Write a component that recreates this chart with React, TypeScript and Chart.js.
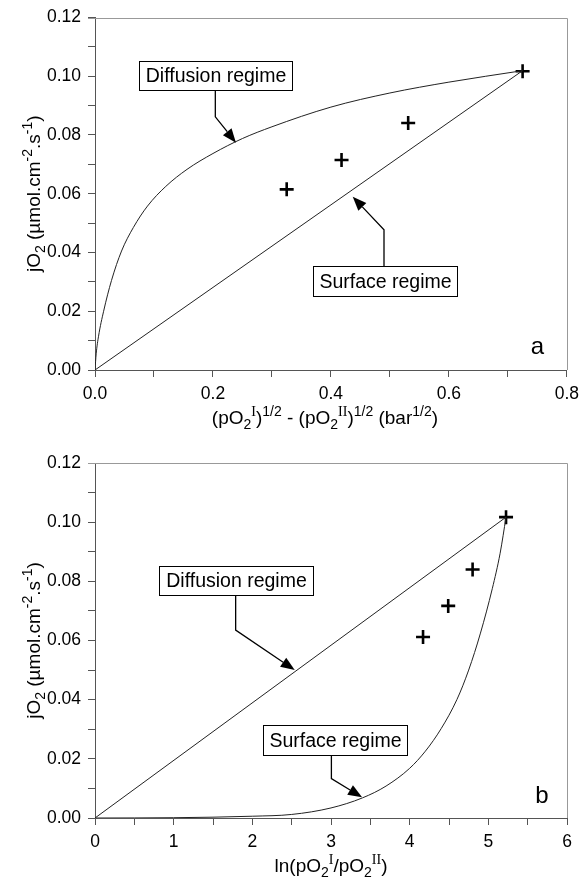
import React, { useEffect, useRef } from 'react';
import { Chart, registerables } from 'chart.js';
Chart.register(...registerables);

// ---------- Panel a : jO2 vs (pO2^I)^1/2 - (pO2^II)^1/2 ----------
const aDiffusionX = [0, 0.002, 0.006, 0.0146, 0.028, 0.045, 0.065, 0.089, 0.12, 0.156, 0.2, 0.25, 0.3, 0.4, 0.5, 0.6, 0.725];
const aDiffusionY = [0, 0.0055, 0.0115, 0.020, 0.0305, 0.0405, 0.0485, 0.0558, 0.0625, 0.0683, 0.0737, 0.0788, 0.0828, 0.0895, 0.0943, 0.0980, 0.1019];
const aSurfaceX = [0, 0.725];
const aSurfaceY = [0, 0.1019];
const aMeasuredX = [0.325, 0.418, 0.531, 0.725];
const aMeasuredY = [0.0615, 0.0715, 0.0841, 0.1017];
const aXTickLabels = ['0.0', '0.2', '0.4', '0.6', '0.8'];

// ---------- Panel b : jO2 vs ln(pO2^I / pO2^II) ----------
const bDiffusionX = [0, 5.225];
const bDiffusionY = [0, 0.1017];
const bSurfaceX = [0, 1.0, 2.0, 2.5, 3.0, 3.4, 3.7, 4.0, 4.2, 4.4, 4.6, 4.75, 4.9, 5.05, 5.15, 5.225];
const bSurfaceY = [0, 0.0001, 0.0006, 0.0012, 0.0034, 0.0068, 0.0108, 0.0168, 0.0226, 0.0302, 0.040, 0.050, 0.0625, 0.0775, 0.0895, 0.1017];
const bMeasuredX = [4.17, 4.49, 4.80, 5.225];
const bMeasuredY = [0.0612, 0.0717, 0.0840, 0.1017];
const bXTickLabels = ['0', '1', '2', '3', '4', '5', '6'];

const yTickLabels = ['0.00', '0.02', '0.04', '0.06', '0.08', '0.10', '0.12'];

const SANS = '"Liberation Sans", Arial, Helvetica, sans-serif';
const SERIF = '"Liberation Serif", "Times New Roman", serif';

type Seg = { t: string; k?: 'sub' | 'sup'; serif?: boolean };

const yTitle: Seg[] = [
  { t: 'jO' }, { t: '2', k: 'sub' }, { t: ' (\u00b5mol.cm' }, { t: '-2', k: 'sup' }, { t: '.s' }, { t: '-1', k: 'sup' }, { t: ')' },
];
const aXTitle: Seg[] = [
  { t: '(pO' }, { t: '2', k: 'sub' }, { t: 'I', k: 'sup', serif: true }, { t: ')' }, { t: '1/2', k: 'sup' },
  { t: ' - (pO' }, { t: '2', k: 'sub' }, { t: 'II', k: 'sup', serif: true }, { t: ')' }, { t: '1/2', k: 'sup' },
  { t: ' (bar' }, { t: '1/2', k: 'sup' }, { t: ')' },
];
const bXTitle: Seg[] = [
  { t: 'ln(pO' }, { t: '2', k: 'sub' }, { t: 'I', k: 'sup', serif: true }, { t: '/pO' }, { t: '2', k: 'sub' }, { t: 'II', k: 'sup', serif: true }, { t: ')' },
];

const pts = (xs: number[], ys: number[]) => xs.map((x, i) => ({ x, y: ys[i] }));

function drawRich(ctx: CanvasRenderingContext2D, segs: Seg[], x: number, y: number, size: number, rotate: boolean) {
  const small = Math.round(size * 0.72);
  const font = (s: number, serif?: boolean) => `${s}px ${serif ? SERIF : SANS}`;
  let w = 0;
  const parts = segs.map((s) => {
    const sz = s.k ? small : size;
    ctx.font = font(sz, s.serif);
    const mw = ctx.measureText(s.t).width;
    w += mw;
    return { ...s, sz, mw };
  });
  ctx.save();
  ctx.translate(x, y);
  if (rotate) ctx.rotate(-Math.PI / 2);
  ctx.textAlign = 'left';
  ctx.textBaseline = 'alphabetic';
  ctx.fillStyle = '#000';
  let cx = -w / 2;
  for (const p of parts) {
    ctx.font = font(p.sz, p.serif);
    const dy = p.k === 'sub' ? size * 0.28 : p.k === 'sup' ? -size * 0.42 : 0;
    ctx.fillText(p.t, cx, dy);
    cx += p.mw;
  }
  ctx.restore();
}

type Box = { x0: number; x1: number; y0: number; y1: number; text: string };
type Arrow = { pts: [number, number][] };
type PanelCfg = {
  xMax: number; xStep: number; xLabels: string[];
  top: number; xScaleH: number;
  diffX: number[]; diffY: number[]; surfX: number[]; surfY: number[]; measX: number[]; measY: number[];
  curvedIsDiff: boolean;
  boxes: Box[]; arrows: Arrow[];
  letter: { x: number; y: number; t: string };
  xTitle: Seg[]; xTitleDx: number;
};

function makeAnnot(cfg: PanelCfg) {
  return {
    id: 'annot',
    beforeDatasetsDraw(chart: any) {
      const { ctx, chartArea: a } = chart;
      ctx.save();
      ctx.strokeStyle = '#999';
      ctx.lineWidth = 1;
      ctx.beginPath();
      ctx.moveTo(a.left - 7, Math.round(a.top) + 0.5);
      ctx.lineTo(Math.round(a.right) + 0.5, Math.round(a.top) + 0.5);
      ctx.lineTo(Math.round(a.right) + 0.5, a.bottom);
      ctx.stroke();
      ctx.restore();
    },
    afterDatasetsDraw(chart: any) {
      const { ctx, chartArea: a } = chart;
      const xs = chart.scales.x, ys = chart.scales.y;
      const px = (v: number) => xs.getPixelForValue(v);
      const py = (v: number) => ys.getPixelForValue(v);
      ctx.save();
      for (const ar of cfg.arrows) {
        const p = ar.pts.map(([x, y]) => [px(x), py(y)]);
        const n = p.length;
        const [tx, ty] = p[n - 1];
        const [sx, sy] = p[n - 2];
        const ang = Math.atan2(ty - sy, tx - sx);
        const hl = 14, hw = 5.5;
        const bx = tx - hl * Math.cos(ang), by = ty - hl * Math.sin(ang);
        ctx.strokeStyle = '#000';
        ctx.lineWidth = 1.3;
        ctx.beginPath();
        ctx.moveTo(p[0][0], p[0][1]);
        for (let i = 1; i < n - 1; i++) ctx.lineTo(p[i][0], p[i][1]);
        ctx.lineTo(bx, by);
        ctx.stroke();
        ctx.fillStyle = '#000';
        ctx.beginPath();
        ctx.moveTo(tx, ty);
        ctx.lineTo(bx + hw * Math.sin(ang), by - hw * Math.cos(ang));
        ctx.lineTo(bx - hw * Math.sin(ang), by + hw * Math.cos(ang));
        ctx.closePath();
        ctx.fill();
      }
      for (const b of cfg.boxes) {
        const x0 = Math.round(px(b.x0)) + 0.5, x1 = Math.round(px(b.x1)) + 0.5;
        const y0 = Math.round(py(b.y0)) + 0.5, y1 = Math.round(py(b.y1)) + 0.5;
        ctx.fillStyle = '#fff';
        ctx.fillRect(x0, y0, x1 - x0, y1 - y0);
        ctx.strokeStyle = '#000';
        ctx.lineWidth = 1;
        ctx.strokeRect(x0, y0, x1 - x0, y1 - y0);
        ctx.fillStyle = '#000';
        ctx.font = `19.5px ${SANS}`;
        ctx.textAlign = 'center';
        ctx.textBaseline = 'middle';
        ctx.fillText(b.text, (x0 + x1) / 2, (y0 + y1) / 2 + 1);
      }
      ctx.font = `24px ${SANS}`;
      ctx.fillStyle = '#000';
      ctx.textAlign = 'center';
      ctx.textBaseline = 'middle';
      ctx.fillText(cfg.letter.t, px(cfg.letter.x), py(cfg.letter.y));
      ctx.restore();
      drawRich(ctx, cfg.xTitle, (a.left + a.right) / 2 + cfg.xTitleDx, a.bottom + 54, 19, false);
      drawRich(ctx, yTitle, 40, (a.top + a.bottom) / 2, 19, true);
    },
  };
}

const labelFor = (labels: string[]) => (v: number) => {
  const l = labels.find((s) => Math.abs(parseFloat(s) - v) < 1e-9);
  return l === undefined ? '' : l;
};

function makeConfig(cfg: PanelCfg): any {
  const lineStyle = { showLine: true, pointRadius: 0, borderColor: '#222', borderWidth: 1, fill: false };
  return {
    type: 'scatter',
    data: {
      datasets: [
        { label: 'Diffusion regime', data: pts(cfg.diffX, cfg.diffY), ...lineStyle, cubicInterpolationMode: cfg.curvedIsDiff ? 'monotone' : 'default' },
        { label: 'Surface regime', data: pts(cfg.surfX, cfg.surfY), ...lineStyle, cubicInterpolationMode: cfg.curvedIsDiff ? 'default' : 'monotone' },
        { label: 'Measured', data: pts(cfg.measX, cfg.measY), showLine: false, pointStyle: 'cross', pointRadius: 7, borderWidth: 2.6, borderColor: '#000', backgroundColor: '#000' },
      ],
    },
    options: {
      animation: false,
      responsive: false,
      devicePixelRatio: 1,
      layout: { padding: { top: cfg.top, right: 19, left: 0, bottom: 0 } },
      plugins: { legend: { display: false }, tooltip: { enabled: false } },
      scales: {
        x: {
          type: 'linear', min: 0, max: cfg.xMax,
          ticks: { stepSize: cfg.xStep, autoSkip: false, maxRotation: 0, padding: 7, color: '#000', font: { family: SANS, size: 17.5 }, callback: labelFor(cfg.xLabels) },
          grid: { drawOnChartArea: false, drawTicks: true, tickLength: 7, tickColor: '#555' },
          border: { display: true, color: '#555', width: 1 },
          afterFit: (s: any) => { s.height = cfg.xScaleH; },
        },
        y: {
          type: 'linear', min: 0, max: 0.12,
          ticks: { stepSize: 0.01, autoSkip: false, padding: 7, color: '#000', font: { family: SANS, size: 17.5 }, callback: labelFor(yTickLabels) },
          grid: { drawOnChartArea: false, drawTicks: true, tickLength: 7, tickColor: '#555' },
          border: { display: true, color: '#555', width: 1 },
          afterFit: (s: any) => { s.width = 95; },
        },
      },
    },
    plugins: [makeAnnot(cfg)],
  };
}

const panelA: PanelCfg = {
  xMax: 0.8, xStep: 0.1, xLabels: aXTickLabels, top: 15, xScaleH: 70,
  diffX: aDiffusionX, diffY: aDiffusionY, surfX: aSurfaceX, surfY: aSurfaceY, measX: aMeasuredX, measY: aMeasuredY,
  curvedIsDiff: true,
  boxes: [
    { x0: 0.0746, x1: 0.334, y0: 0.1051, y1: 0.0953, text: 'Diffusion regime' },
    { x0: 0.3695, x1: 0.6136, y0: 0.0353, y1: 0.0252, text: 'Surface regime' },
  ],
  arrows: [
    { pts: [[0.204, 0.0953], [0.204, 0.0862], [0.239, 0.0774]] },
    { pts: [[0.49, 0.0353], [0.49, 0.0477], [0.437, 0.059]] },
  ],
  letter: { x: 0.75, y: 0.0078, t: 'a' },
  xTitle: aXTitle, xTitleDx: -6,
};

const panelB: PanelCfg = {
  xMax: 6, xStep: 0.5, xLabels: bXTickLabels, top: 23, xScaleH: 62,
  diffX: bDiffusionX, diffY: bDiffusionY, surfX: bSurfaceX, surfY: bSurfaceY, measX: bMeasuredX, measY: bMeasuredY,
  curvedIsDiff: false,
  boxes: [
    { x0: 0.818, x1: 2.767, y0: 0.0852, y1: 0.0755, text: 'Diffusion regime' },
    { x0: 2.135, x1: 3.966, y0: 0.0315, y1: 0.0213, text: 'Surface regime' },
  ],
  arrows: [
    { pts: [[1.788, 0.0755], [1.788, 0.0635], [2.539, 0.05]] },
    { pts: [[3.005, 0.0213], [3.005, 0.0133], [3.395, 0.007]] },
  ],
  letter: { x: 5.68, y: 0.0073, t: 'b' },
  xTitle: bXTitle, xTitleDx: 0,
};

function Panel({ cfg }: { cfg: PanelCfg }) {
  const ref = useRef<HTMLCanvasElement>(null);
  useEffect(() => {
    const chart = new Chart(ref.current!, makeConfig(cfg));
    return () => chart.destroy();
  }, [cfg]);
  return <canvas ref={ref} width={586} height={440} style={{ display: 'block', width: 586, height: 440 }} />;
}

export default function App() {
  return (
    <div style={{ position: 'absolute', left: 0, top: 0, width: 586, height: 880, background: '#fff' }}>
      <Panel cfg={panelA} />
      <Panel cfg={panelB} />
    </div>
  );
}
